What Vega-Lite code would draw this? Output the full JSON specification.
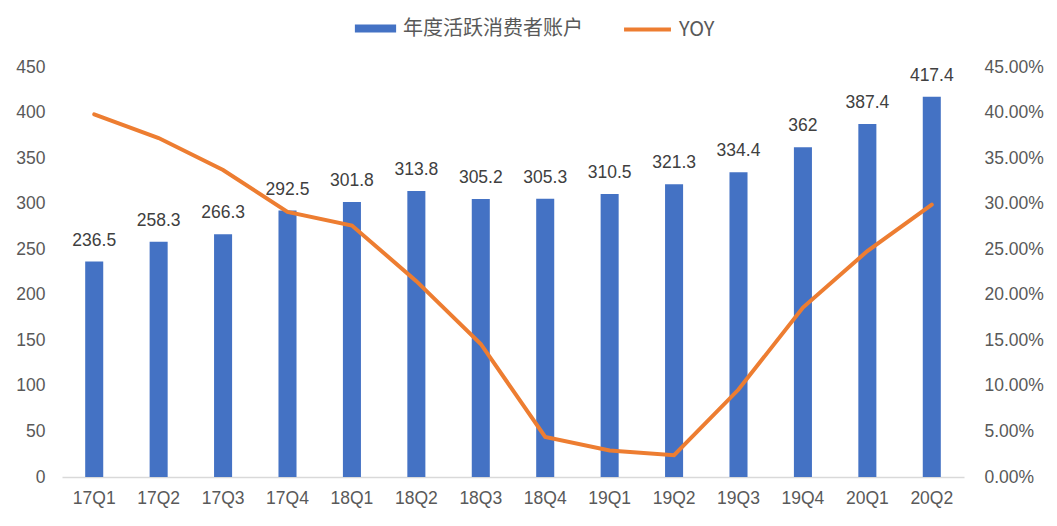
{
  "$schema": "https://vega.github.io/schema/vega-lite/v6.json",
  "width": 902,
  "height": 410,
  "autosize": {"type": "none"},
  "padding": {"left": 62, "top": 67, "right": 93, "bottom": 49},
  "background": "white",
  "config": {
    "view": {"stroke": null},
    "font": "Liberation Sans, Noto Sans CJK SC",
    "axis": {"labelFont": "Liberation Sans", "labelFontSize": 17.5, "labelColor": "#595959", "grid": false, "ticks": false, "title": null},
    "legend": {"labelFont": "Noto Sans CJK SC, Liberation Sans", "labelFontSize": 20, "labelColor": "#595959", "title": null, "labelLimit": 0}
  },
  "data": {
    "values": [
      {"q": "17Q1", "users": 236.5, "yoy": 0.398},
      {"q": "17Q2", "users": 258.3, "yoy": 0.372},
      {"q": "17Q3", "users": 266.3, "yoy": 0.337},
      {"q": "17Q4", "users": 292.5, "yoy": 0.291},
      {"q": "18Q1", "users": 301.8, "yoy": 0.276},
      {"q": "18Q2", "users": 313.8, "yoy": 0.215},
      {"q": "18Q3", "users": 305.2, "yoy": 0.146},
      {"q": "18Q4", "users": 305.3, "yoy": 0.044},
      {"q": "19Q1", "users": 310.5, "yoy": 0.029},
      {"q": "19Q2", "users": 321.3, "yoy": 0.024},
      {"q": "19Q3", "users": 334.4, "yoy": 0.096},
      {"q": "19Q4", "users": 362, "yoy": 0.186},
      {"q": "20Q1", "users": 387.4, "yoy": 0.248},
      {"q": "20Q2", "users": 417.4, "yoy": 0.299}
    ]
  },
  "encoding": {
    "x": {
      "field": "q", "type": "nominal", "sort": null,
      "scale": {"paddingInner": 0.72, "paddingOuter": 0.36},
      "axis": {"labelAngle": 0, "domainColor": "#d9d9d9", "domainWidth": 1.5, "labelPadding": 12}
    }
  },
  "layer": [
    {
      "layer": [
        {
          "mark": {"type": "bar"},
          "encoding": {
            "y": {"field": "users", "type": "quantitative", "scale": {"domain": [0, 450]},
                  "axis": {"values": [0, 50, 100, 150, 200, 250, 300, 350, 400, 450], "domain": false, "labelPadding": 17}},
            "fill": {"datum": "年度活跃消费者账户", "type": "nominal",
                     "scale": {"domain": ["年度活跃消费者账户"], "range": ["#4472C4"]},
                     "legend": {"orient": "none", "legendX": 292, "legendY": -60, "symbolType": "M-1,-0.19H1V0.19H-1Z", "symbolSize": 1700, "labelOffset": 6}}
          }
        },
        {
          "mark": {"type": "text", "dy": -21, "fontSize": 17.5, "color": "#404040", "font": "Liberation Sans"},
          "encoding": {
            "y": {"field": "users", "type": "quantitative", "scale": {"domain": [0, 450]}},
            "text": {"field": "users", "type": "quantitative"}
          }
        }
      ]
    },
    {
      "mark": {"type": "line", "strokeWidth": 4, "strokeCap": "round"},
      "encoding": {
        "y": {"field": "yoy", "type": "quantitative", "scale": {"domain": [0, 0.45]},
              "axis": {"orient": "right", "format": ".2%", "values": [0, 0.05, 0.1, 0.15, 0.2, 0.25, 0.3, 0.35, 0.4, 0.45], "domain": false, "labelPadding": 20}},
        "stroke": {"datum": "YOY", "type": "nominal",
                   "scale": {"domain": ["YOY"], "range": ["#ED7D31"]},
                   "legend": {"orient": "none", "legendX": 560, "legendY": -63, "symbolType": "stroke", "symbolStrokeWidth": 4, "symbolSize": 2200, "labelOffset": 6}}
      }
    }
  ],
  "resolve": {"scale": {"y": "independent", "fill": "independent", "stroke": "independent"}}
}
